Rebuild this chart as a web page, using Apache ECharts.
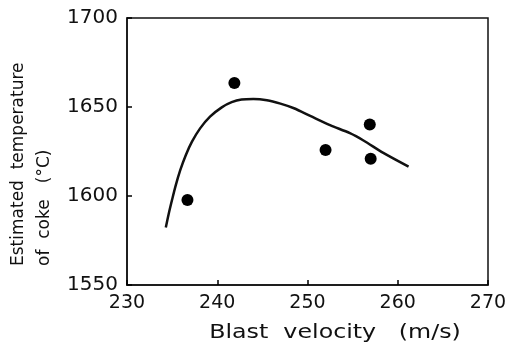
<!DOCTYPE html>
<html>
<head>
<meta charset="utf-8">
<script src="https://cdn.jsdelivr.net/npm/echarts@6/dist/echarts.min.js"></script>
<style>html,body{margin:0;padding:0;background:#fff;}#c{width:510px;height:342px;}</style>
</head>
<body>
<div id="c"></div>
<script>
var xTicks = [230, 240, 250, 260, 270];
var yTicks = [1550, 1600, 1650, 1700];
var pointX = [236.7, 241.9, 252.0, 256.9, 257.0];
var pointY = [1597.8, 1663.5, 1625.9, 1640.2, 1620.9];
var curveX = [234.3, 234.6, 235.0, 235.4, 235.9, 236.5, 237.2, 238.1, 239.2, 240.5, 241.6, 242.7, 244.0, 245.5, 247.0, 248.5, 250.3, 252.5, 254.7, 256.2, 258.4, 261.2];
var curveY = [1582.3, 1589.5, 1598.0, 1606.0, 1614.5, 1622.8, 1630.5, 1638.0, 1644.6, 1649.8, 1652.7, 1654.2, 1654.5, 1653.8, 1651.9, 1649.3, 1645.0, 1639.8, 1635.3, 1631.2, 1624.2, 1616.5];
var xTitle = 'Blast  velocity   (m/s)';
var yTitle1 = 'Estimated  temperature';
var yTitle2 = 'of  coke   (°C)';

var font = 'DejaVu Sans';
var chart = echarts.init(document.getElementById('c'));
chart.setOption({
  animation: false,
  backgroundColor: '#fff',
  grid: {left: 127, top: 18, right: 22, bottom: 57, show: true, borderColor: '#111', borderWidth: 1.5},
  xAxis: {
    type: 'value', min: xTicks[0], max: xTicks[xTicks.length - 1], interval: 10,
    axisLine: {show: true, onZero: false, lineStyle: {color: '#111', width: 1.5}},
    axisTick: {show: true, inside: true, length: 5, lineStyle: {color: '#000', width: 1.5}},
    splitLine: {show: false},
    axisLabel: {color: '#111', fontFamily: font, fontSize: 19, margin: 9, formatter: function (v) { return String(v); }}
  },
  yAxis: {
    type: 'value', min: yTicks[0], max: yTicks[yTicks.length - 1], interval: 50,
    axisLine: {show: true, onZero: false, lineStyle: {color: '#111', width: 1.5}},
    axisTick: {show: true, inside: true, length: 5, lineStyle: {color: '#000', width: 1.5}},
    splitLine: {show: false},
    axisLabel: {color: '#111', fontFamily: font, fontSize: 20, margin: 9, formatter: function (v) { return String(v); }}
  },
  graphic: [
    {type: 'text', x: 335, y: 333, scaleX: 1.25, style: {text: xTitle, fill: '#111', font: '19px "' + font + '"', textAlign: 'center', textVerticalAlign: 'middle'}},
    {type: 'text', x: 19, y: 266, rotation: Math.PI / 2, style: {text: yTitle1, fill: '#111', font: '17px "' + font + '"', textAlign: 'left', textVerticalAlign: 'middle'}},
    {type: 'text', x: 45, y: 266, rotation: Math.PI / 2, style: {text: yTitle2, fill: '#111', font: '17px "' + font + '"', textAlign: 'left', textVerticalAlign: 'middle'}}
  ],
  series: [
    {
      type: 'line', smooth: 0.3, showSymbol: false, symbol: 'none',
      lineStyle: {color: '#111', width: 2.5},
      data: curveX.map(function (x, i) { return [x, curveY[i]]; })
    },
    {
      type: 'scatter', symbolSize: 12, itemStyle: {color: '#000', opacity: 1},
      data: pointX.map(function (x, i) { return [x, pointY[i]]; })
    }
  ]
});
</script>
</body>
</html>
